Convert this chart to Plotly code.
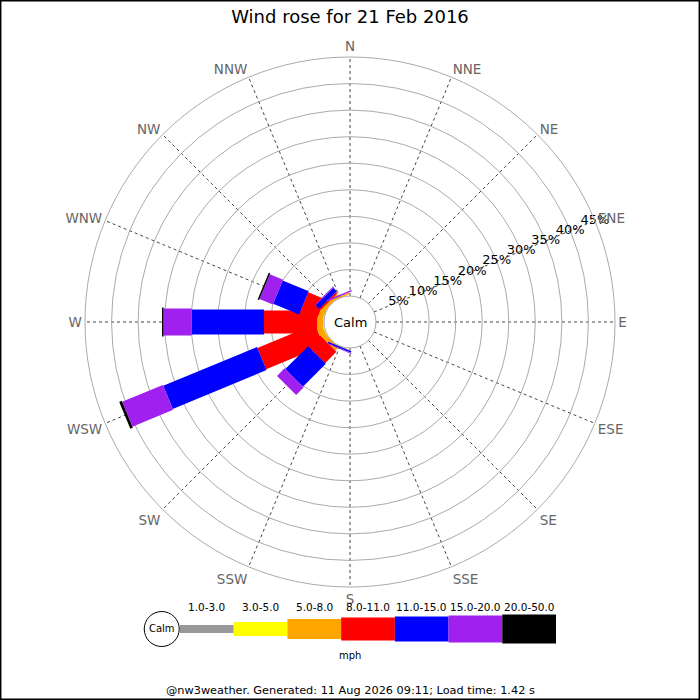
import plotly.graph_objects as go

# wind directions, clockwise from north
dirs = ["N", "NNE", "NE", "ENE", "E", "ESE", "SE", "SSE",
        "S", "SSW", "SW", "WSW", "W", "WNW", "NW", "NNW"]

bands = ["1.0-3.0", "3.0-5.0", "5.0-8.0", "8.0-11.0", "11.0-15.0", "15.0-20.0", "20.0-50.0"]
band_colors = ["#999999", "#ffff00", "#ffa500", "#ff0000", "#0000ff", "#a020f0", "#000000"]
band_widths = [8, 14, 20, 23, 25, 27, 29]  # px, wider for stronger winds

# percent of time per direction for each speed band (N ... NNW)
spd_1_3 =   [0, 0, 0, 0, 0, 0, 0, 0, 0, 0,   0,   0,    0,    0,   0,    0]
spd_3_5 =   [0, 0, 0, 0, 0, 0, 0, 0, 0, 0,   0,   0.2,  0.2,  0.1, 0,    0]
spd_5_8 =   [0, 0, 0, 0, 0, 0, 0, 0, 0, 0.1, 0.9, 1.2,  1.1,  1.0, 0.6,  0.3]
spd_8_11 =  [0, 0, 0, 0, 0, 0, 0, 0, 0, 0,   3.0, 11.7, 10.0, 3.4, 0.35, 0]
spd_11_15 = [0, 0, 0, 0, 0, 0, 0, 0, 0, 0.3, 6.1, 19.1, 13.6, 5.3, 0.95, 0]
spd_15_20 = [0, 0, 0, 0, 0, 0, 0, 0, 0, 0.15, 2.0, 8.3, 5.3,  2.7, 0.2,  0.3]
spd_20_50 = [0, 0, 0, 0, 0, 0, 0, 0, 0, 0,   0,   0.5,  0.3,  0.3, 0,    0]

rings = [5, 10, 15, 20, 25, 30, 35, 40, 45]
ring_labels = ["5%", "10%", "15%", "20%", "25%", "30%", "35%", "40%", "45%"]

title = "Wind rose for 21 Feb 2016"
footer = "@nw3weather. Generated: 11 Aug 2026 09:11; Load time: 1.42 s"

FONT = "DejaVu Sans"
series = [spd_1_3, spd_3_5, spd_5_8, spd_8_11, spd_11_15, spd_15_20, spd_20_50]

fig = go.Figure()

# stacked bars as thick radial line segments (constant pixel width like jpgraph)
cum = [0.0] * len(dirs)
for vals, col, w in zip(series, band_colors, band_widths):
    rr, tt = [], []
    for i, d in enumerate(dirs):
        if vals[i] > 0:
            rr += [cum[i], cum[i] + vals[i], None]
            tt += [d, d, None]
            cum[i] += vals[i]
    fig.add_trace(go.Scatterpolar(r=rr, theta=tt, mode="lines",
                                  line=dict(color=col, width=w),
                                  connectgaps=False, hoverinfo="skip",
                                  showlegend=False))

# ring labels along ENE
fig.add_trace(go.Scatterpolar(r=rings, theta=["ENE"] * len(rings), mode="text",
                              text=ring_labels, textposition="middle center",
                              textfont=dict(family=FONT, size=13, color="black"),
                              cliponaxis=False, hoverinfo="skip", showlegend=False))

# legend strip below the rose
for i, (lab, col, w) in enumerate(zip(bands, band_colors, band_widths)):
    fig.add_trace(go.Scatter(x=[i, i + 1], y=[0, 0], mode="lines",
                             line=dict(color=col, width=w),
                             hoverinfo="skip", showlegend=False,
                             xaxis="x", yaxis="y"))
    fig.add_annotation(x=i + 0.5, y=1 - 607 / 700, xref="x", yref="paper", text=lab,
                       showarrow=False, yanchor="middle",
                       font=dict(family=FONT, size=10.5, color="black"))
fig.add_trace(go.Scatter(x=[-0.34], y=[0], mode="markers+text", text=["Calm"],
                         textposition="middle center",
                         textfont=dict(family=FONT, size=10, color="black"),
                         marker=dict(size=35, color="white",
                                     line=dict(color="black", width=1)),
                         hoverinfo="skip", showlegend=False))

fig.add_annotation(x=0.5, y=1 - 655 / 700, xref="paper", yref="paper", text="mph",
                   showarrow=False, yanchor="middle",
                   font=dict(family=FONT, size=10, color="black"))
fig.add_annotation(x=0.5, y=1 - 322 / 700, xref="paper", yref="paper", text="Calm",
                   showarrow=False, yanchor="middle",
                   font=dict(family=FONT, size=13, color="black"))
fig.add_annotation(x=0.5, y=1 - 690 / 700, xref="paper", yref="paper", text=footer,
                   showarrow=False, yanchor="middle",
                   font=dict(family=FONT, size=11.3, color="black"))

fig.update_layout(
    width=700, height=700,
    margin=dict(l=0, r=0, t=0, b=0),
    paper_bgcolor="white", plot_bgcolor="white",
    title=dict(text=title, x=0.5, y=1 - 17 / 700, xanchor="center", yanchor="middle",
               font=dict(family=FONT, size=18, color="black")),
    polar=dict(
        domain=dict(x=[85 / 700, 615 / 700], y=[1 - 587 / 700, 1 - 57 / 700]),
        hole=0.098,
        bgcolor="white",
        radialaxis=dict(range=[0, 45], tickvals=[0] + rings, showticklabels=False,
                        ticks="", showline=False, gridcolor="#aaaaaa", gridwidth=1,
                        angle=22.5),
        angularaxis=dict(type="category", categoryarray=dirs, direction="clockwise",
                         rotation=90, ticks="", showline=True, linecolor="#aaaaaa",
                         gridcolor="#444444", griddash="dot", gridwidth=1,
                         tickfont=dict(family=FONT, size=13.5, color="#666666")),
    ),
    xaxis=dict(domain=[142.4 / 700, 556 / 700], range=[-0.7, 7], visible=False,
               fixedrange=True),
    yaxis=dict(domain=[0.0514, 0.1514], range=[-1, 1], visible=False, fixedrange=True),
    shapes=[dict(type="rect", xref="paper", yref="paper", x0=0.001, x1=0.999,
                 y0=0.001, y1=0.999, line=dict(color="black", width=1.5))],
)

fig.write_html("out.html", config={"displayModeBar": False},
               post_script="document.body.style.margin='0';")
